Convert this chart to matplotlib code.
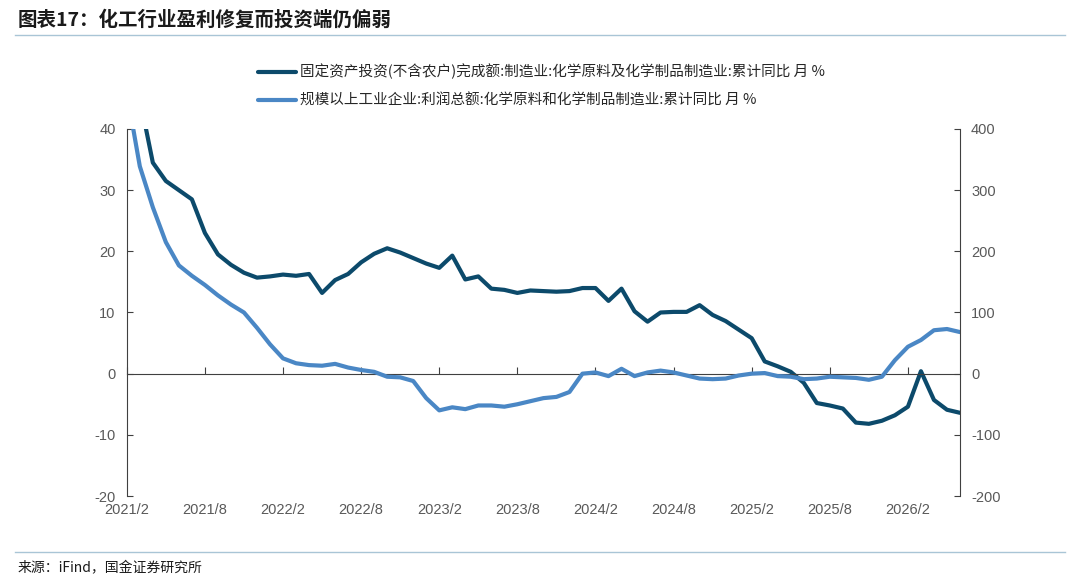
import numpy as np
import matplotlib.pyplot as plt
from matplotlib.lines import Line2D

# 月份（2021/2 起，按月）
months = np.arange(65)
tick_pos = np.arange(0, 61, 6)
tick_labels = ['2021/2', '2021/8', '2022/2', '2022/8', '2023/2', '2023/8',
               '2024/2', '2024/8', '2025/2', '2025/8', '2026/2']

# 固定资产投资完成额:化学原料及化学制品制造业:累计同比（左轴，%）
invest = [60, 45, 34.5, 31.5, 30, 28.5, 23, 19.5, 17.8, 16.5,
          15.7, 15.9, 16.2, 16.0, 16.3, 13.2, 15.3, 16.3, 18.2, 19.6,
          20.5, 19.8, 18.9, 18.0, 17.3, 19.3, 15.4, 15.9, 13.9, 13.7,
          13.2, 13.6, 13.5, 13.4, 13.5, 14.0, 14.0, 11.9, 13.9, 10.2,
          8.5, 10.0, 10.1, 10.1, 11.2, 9.6, 8.6, 7.2, 5.8, 2.0,
          1.2, 0.3, -1.5, -4.8, -5.2, -5.7, -8.0, -8.2, -7.7, -6.8,
          -5.4, 0.4, -4.3, -5.9, -6.4]

# 规模以上工业企业:利润总额:化学原料和化学制品制造业:累计同比（右轴，%）
profit = [460, 339, 272, 215, 177, 160, 145, 128, 113, 100,
          75, 48, 25, 17, 14, 13, 16, 10, 6, 3,
          -5, -6, -12, -40, -60, -55, -58, -52, -52, -54,
          -50, -45, -40, -38, -30, 0, 2, -4, 8, -4,
          2, 5, 2, -3, -8, -9, -8, -3, 0, 1,
          -4, -5, -9, -8, -5, -6, -7, -10, -5, 22,
          44, 55, 71, 73, 68]

label1 = '固定资产投资(不含农户)完成额:制造业:化学原料及化学制品制造业:累计同比 月 %'
label2 = '规模以上工业企业:利润总额:化学原料和化学制品制造业:累计同比 月 %'

dark = '#0c4a6b'
light = '#4a87c5'
grey = '#595959'

plt.rcParams['font.family'] = ['Liberation Sans', 'Noto Sans CJK SC', 'DejaVu Sans']
plt.rcParams['axes.unicode_minus'] = False

fig = plt.figure(figsize=(10.8, 5.82), dpi=100)
W, H = 1080, 582
ax = fig.add_axes([126.8 / W, 1 - 496 / H, (960 - 126.8) / W, (496 - 129) / H])

l1, = ax.plot(months, invest, color=dark, lw=3, solid_capstyle='round',
              solid_joinstyle='round', label=label1)
ax.set_xlim(0, 64)
ax.set_ylim(-20, 40)
ax.set_yticks(np.arange(-20, 41, 10))

ax2 = ax.twinx()
l2, = ax2.plot(months, profit, color=light, lw=3, solid_capstyle='round',
               solid_joinstyle='round', label=label2)
ax2.set_ylim(-200, 400)
ax2.set_yticks(np.arange(-200, 401, 100))

# 坐标轴样式
for a in (ax, ax2):
    a.spines['top'].set_visible(False)
ax2.spines['bottom'].set_visible(False)
ax2.spines['left'].set_visible(False)
ax.spines['right'].set_visible(False)
ax.spines['bottom'].set_position(('data', 0))
for s in ('left', 'bottom'):
    ax.spines[s].set_color('#404040')
ax2.spines['right'].set_color('#404040')

ax.set_xticks(tick_pos)
ax.tick_params(axis='x', direction='in', length=5, color='#404040', labelbottom=False)
ax.tick_params(axis='y', direction='in', length=4, color='#404040', labelcolor=grey,
               labelsize=10.5, pad=8)
ax2.tick_params(axis='y', direction='in', length=4, color='#404040', labelcolor=grey,
                labelsize=10.5, pad=8)

# 横轴标签放在底部
sec = ax.secondary_xaxis('bottom')
sec.set_xticks(tick_pos, tick_labels)
sec.spines['bottom'].set_visible(False)
sec.tick_params(length=0, labelsize=10.5, labelcolor=grey, pad=5)

# 图例
fig.legend(handles=[l1, l2], loc='upper left', bbox_to_anchor=(258 / W, 1 - 64 / H),
           frameon=False, borderpad=0, borderaxespad=0, handlelength=2.6,
           handletextpad=0.3, labelspacing=0.95,
           prop={'family': ['Noto Sans CJK SC', 'DejaVu Sans'], 'size': 10.5},
           labelcolor='#262626')

# 标题、分隔线、来源
fig.text(18 / W, 1 - 20 / H, '图表17：化工行业盈利修复而投资端仍偏弱', ha='left', va='center',
         fontsize=14, fontweight='bold', color='#1a1a1a',
         family=['Noto Sans CJK SC', 'DejaVu Sans'])
fig.add_artist(Line2D([15 / W, 1065 / W], [1 - 35 / H] * 2, color='#a9c5d6', lw=1,
                      transform=fig.transFigure))
fig.add_artist(Line2D([15 / W, 1065 / W], [1 - 552 / H] * 2, color='#a9c5d6', lw=1,
                      transform=fig.transFigure))
fig.text(18 / W, 1 - 568 / H, '来源：iFind，国金证券研究所', ha='left', va='center',
         fontsize=10, color='#1a1a1a', family=['Noto Sans CJK SC', 'DejaVu Sans'])

fig.savefig('out.png', dpi=100)
